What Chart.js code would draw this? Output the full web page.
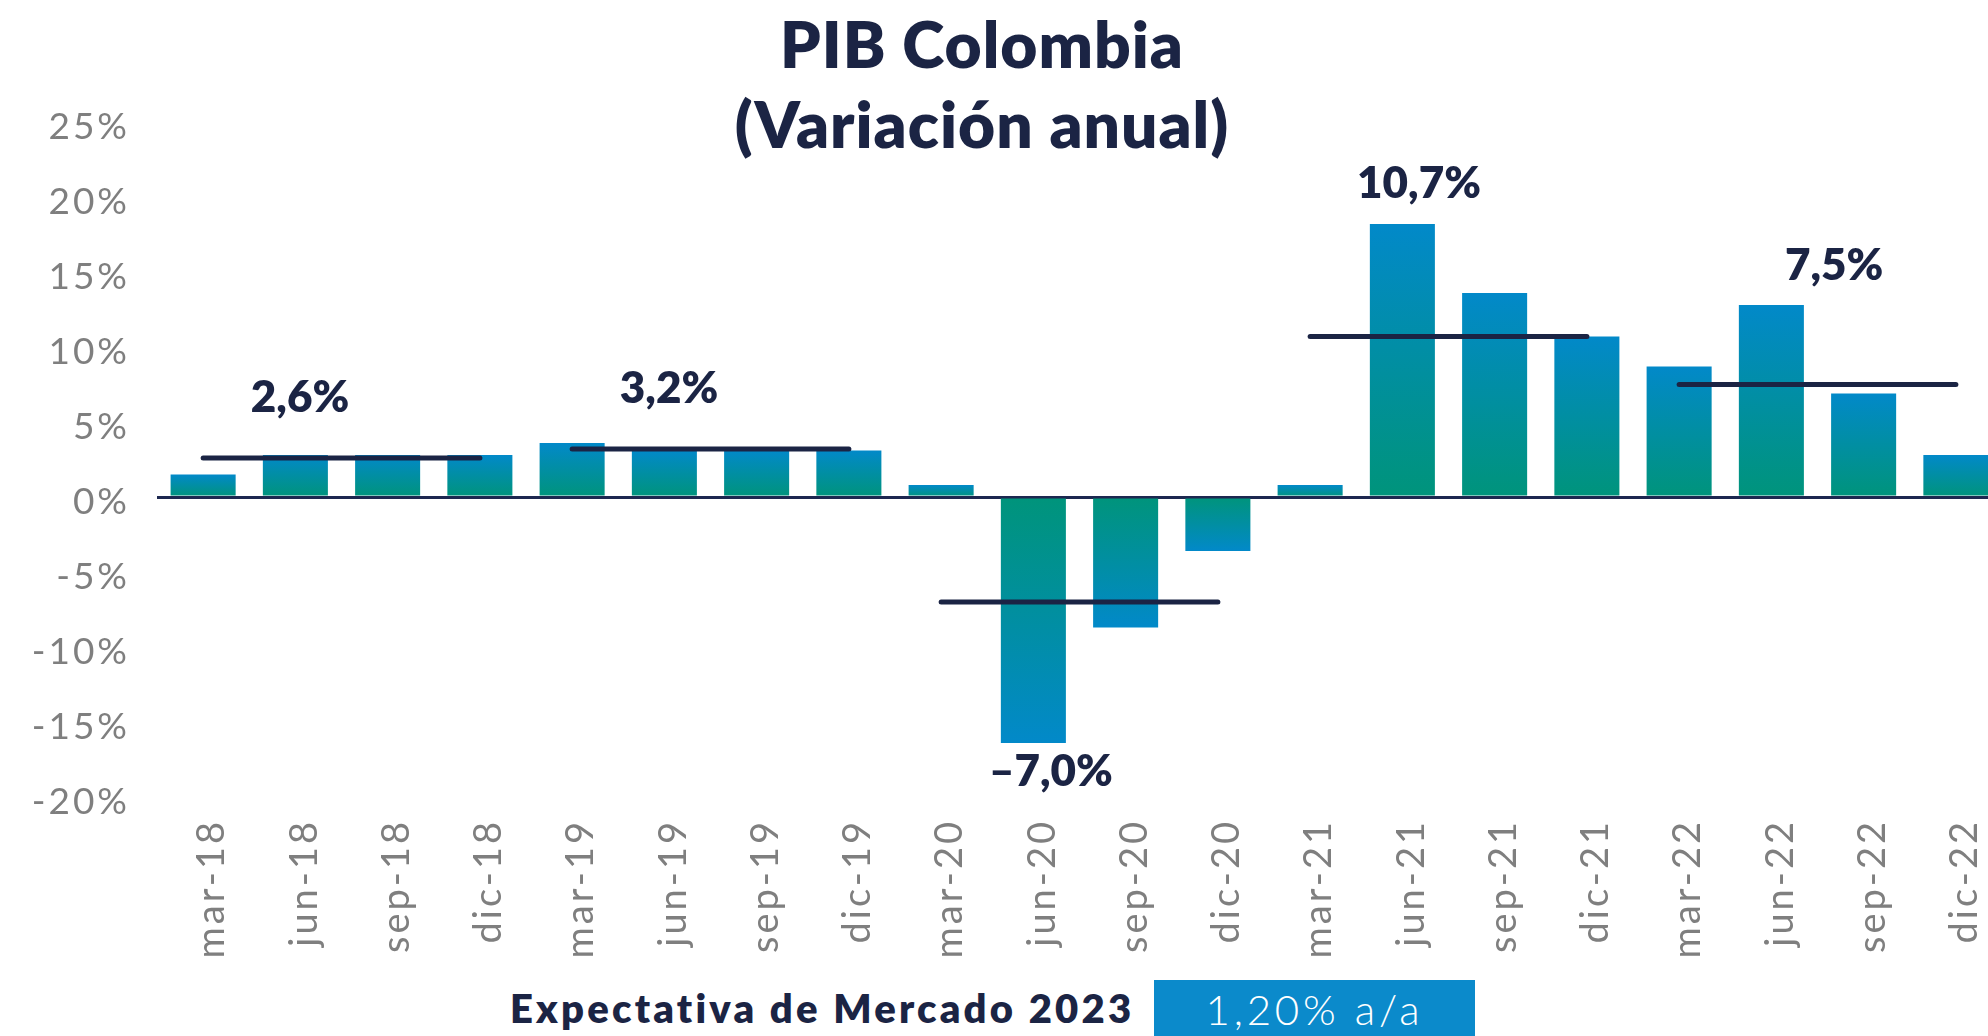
<!DOCTYPE html>
<html lang="es">
<head>
<meta charset="utf-8">
<title>PIB Colombia</title>
<script src="https://cdn.jsdelivr.net/npm/chart.js@4.4.1/dist/chart.umd.min.js"></script>
<style>
  html, body { margin: 0; padding: 0; background: #fff; overflow: hidden; }
  body { width: 1988px; height: 1036px; position: relative; font-family: "Lato", sans-serif; }
  #contenedor { position: absolute; left: 0; top: 0; width: 2002px; height: 980px; }
  #titulo {
    position: absolute; left: 482px; top: 4px; width: 1000px;
    text-align: center; color: #1b2444; font-weight: 800;
    font-size: 64px; line-height: 80px; letter-spacing: 1px;
  }
  #expectativa {
    position: absolute; left: 510px; top: 988px; color: #1b2444;
    font-weight: 800; font-size: 40px; line-height: 40px; letter-spacing: 3.2px;
    white-space: nowrap;
  }
  #caja {
    position: absolute; left: 1154px; top: 980px; width: 321px; height: 56px;
    background: #0b8acb; color: #fff; text-align: center;
    font-weight: 300; font-size: 42px; line-height: 58px; letter-spacing: 3.8px;
    white-space: nowrap;
  }
</style>
</head>
<body>
<div id="titulo">PIB Colombia<br>(Variación anual)</div>
<div id="contenedor"><canvas id="graficoPIB"></canvas></div>
<div id="expectativa">Expectativa de Mercado 2023</div>
<div id="caja">1,20% a/a</div>

<script>
// Trimestres
const trimestres = [
  "mar-18", "jun-18", "sep-18", "dic-18",
  "mar-19", "jun-19", "sep-19", "dic-19",
  "mar-20", "jun-20", "sep-20", "dic-20",
  "mar-21", "jun-21", "sep-21", "dic-21",
  "mar-22", "jun-22", "sep-22", "dic-22",
];

// Variación anual trimestral (%)
const variacion = [
  1.5, 2.8, 2.8, 2.8,
  3.6, 3.1, 3.1, 3.1,
  0.8, -16.4, -8.7, -3.6,
  0.8, 18.2, 13.6, 10.7,
  8.7, 12.8, 6.9, 2.8,
];

// Promedio anual (%)
const promedioAnual = [2.6, 3.2, -7.0, 10.7, 7.5];
const textoPromedio = ["2,6%", "3,2%", "–7,0%", "10,7%", "7,5%"];

const ejeY = { min: -20, max: 25, paso: 5 };

// donde se escribe cada promedio (indice de categoria, valor en el eje)
const posEtiquetas = [
  [1.05, 6.6],
  [5.05, 7.2],
  [9.19, -18.3],
  [13.18, 20.9],
  [17.68, 15.4],
];

const AZUL = "#0289c9";
const VERDE = "#00947b";
const NAVY = "#1b2444";
const GRIS = "#7f7f7f";

// degradado por barra: verde en el cero, azul en el extremo
function colorBarra(ctx) {
  const chart = ctx.chart;
  const y = chart.scales.y;
  if (!y || ctx.parsed == null || !chart.chartArea) return AZUL;
  const y0 = y.getPixelForValue(0);
  const y1 = y.getPixelForValue(ctx.parsed.y);
  if (Math.abs(y1 - y0) < 1) return AZUL;
  const g = chart.ctx.createLinearGradient(0, y1, 0, y0);
  g.addColorStop(0, AZUL);
  g.addColorStop(1, VERDE);
  return g;
}

// una linea por año con el promedio
const lineasPromedio = promedioAnual.map((p, k) => ({
  type: "line",
  data: trimestres.map((t, i) => (Math.floor(i / 4) === k ? p : null)),
  borderColor: NAVY,
  borderWidth: 5,
  borderCapStyle: "round",
  pointRadius: 0,
  fill: false,
  order: 0,
}));

const estiloTexto = {
  id: "estiloTexto",
  beforeDraw(chart) {
    chart.ctx.letterSpacing = "3px";
  },
};

const etiquetasPromedio = {
  id: "etiquetasPromedio",
  afterDatasetsDraw(chart) {
    const { ctx, scales } = chart;
    ctx.save();
    ctx.letterSpacing = "0px";
    ctx.font = "800 44px Lato";
    ctx.fillStyle = NAVY;
    ctx.textAlign = "center";
    ctx.textBaseline = "middle";
    posEtiquetas.forEach((pos, k) => {
      ctx.fillText(
        textoPromedio[k],
        scales.x.getPixelForValue(pos[0]),
        scales.y.getPixelForValue(pos[1])
      );
    });
    ctx.restore();
  },
};

new Chart(document.getElementById("graficoPIB"), {
  type: "bar",
  data: {
    labels: trimestres,
    datasets: [
      {
        data: variacion,
        backgroundColor: colorBarra,
        categoryPercentage: 1,
        barPercentage: 0.705,
        order: 1,
      },
      ...lineasPromedio,
    ],
  },
  options: {
    responsive: true,
    maintainAspectRatio: false,
    animation: false,
    layout: { padding: { top: 122, left: 0, right: 0, bottom: 0 } },
    plugins: {
      legend: { display: false },
      tooltip: { enabled: false },
    },
    scales: {
      x: {
        grid: { display: false, drawTicks: false },
        border: { display: false },
        ticks: {
          autoSkip: false,
          maxRotation: 90,
          minRotation: 90,
          padding: 22,
          labelOffset: 9,
          color: GRIS,
          font: { family: "Lato", size: 38 },
        },
        afterFit(scale) {
          scale.height = 183;
          scale.paddingLeft = 0;
          scale.paddingRight = 0;
        },
      },
      y: {
        min: ejeY.min,
        max: ejeY.max,
        z: 1,
        border: { display: false },
        grid: {
          drawTicks: false,
          lineWidth: 3,
          color: (c) => (c.tick && c.tick.value === 0 ? "#1d2850" : "rgba(0,0,0,0)"),
        },
        ticks: {
          stepSize: ejeY.paso,
          padding: 27,
          labelOffset: 5,
          color: GRIS,
          font: { family: "Lato", size: 37 },
          callback: (v) => v + "%",
        },
        afterFit(scale) {
          scale.width = 157;
        },
      },
    },
  },
  plugins: [estiloTexto, etiquetasPromedio],
});
</script>
</body>
</html>
